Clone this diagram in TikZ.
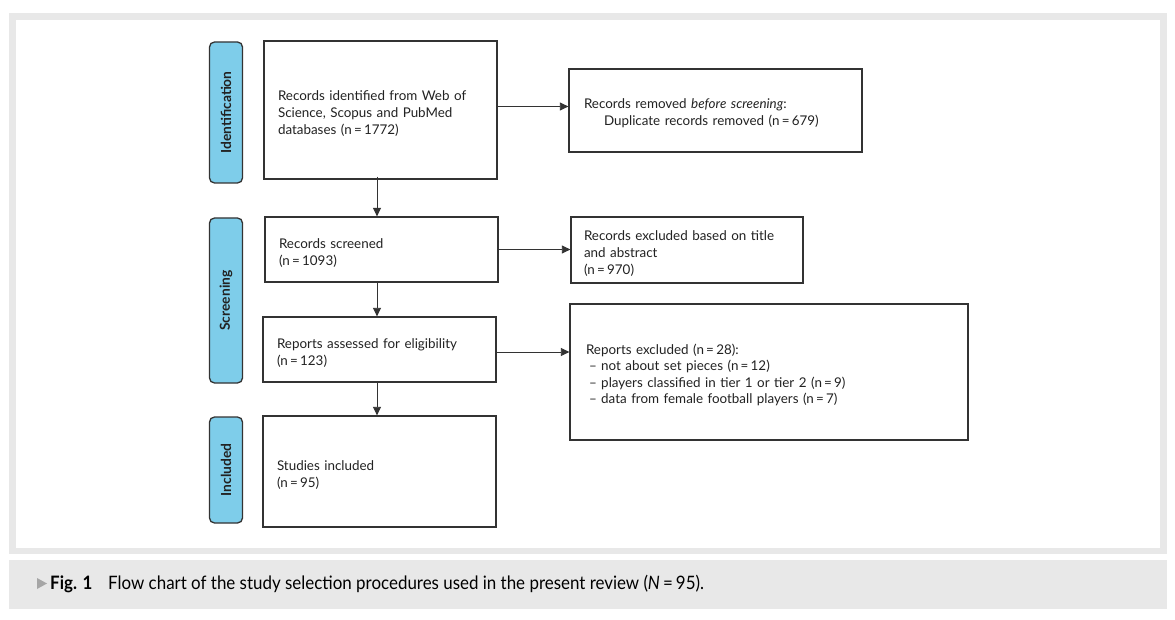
\documentclass[tikz,border=0pt]{standalone}
\usepackage{fontspec}
\setmainfont{Lato}
\newfontfamily\capfont[FakeStretch=0.915]{Lato}
\usetikzlibrary{arrows.meta}
\definecolor{framegray}{HTML}{E8E8E8}
\definecolor{labblue}{HTML}{7ECDEA}
\definecolor{ink}{HTML}{222222}
\definecolor{edge}{HTML}{333333}
\tikzset{
  box/.style={draw=edge, line width=1.3pt, fill=white, inner xsep=14pt, inner ysep=0pt, align=left, text=ink,
    font=\fontsize{13.4}{17}\selectfont, execute at begin node={\rule{0pt}{16pt}}},
  lab/.style={draw=edge, line width=1.3pt, fill=labblue, rounded corners=5pt, rotate=90, inner sep=0pt,
    text=ink, font=\bfseries\fontsize{13.8}{15}\selectfont},
  arr/.style={draw=edge, line width=0.8pt, -{Triangle[length=8.5pt,width=8pt]}},
}
\begin{document}
\begin{tikzpicture}[x=1pt,y=-1pt]
\useasboundingbox (0,0) rectangle (1175,620);
\fill[white] (0,0) rectangle (1175,620);
\fill[framegray] (9,13) rectangle (1167,554);
\fill[white] (16,20) rectangle (1160,548);
\fill[framegray] (9,560) rectangle (1167,609);

% phase labels
\node[lab, minimum width=141pt, minimum height=33pt] (l1) at (226,112.5) {Identification};
\node[lab, minimum width=165pt, minimum height=33pt] (l2) at (226,300.5) {Screening};
\node[lab, minimum width=106pt, minimum height=33pt] (l3) at (226,470) {Included};

% left column
\node[box, text width=205pt, minimum height=138pt] (b1) at (380.5,110)
  {Records identified from Web of\\Science, Scopus and PubMed\\databases (n\,=\,1772)};
\node[box, text width=205pt, minimum height=65pt] (b2) at (381.5,249.5)
  {Records screened\\(n\,=\,1093)};
\node[box, text width=205pt, minimum height=65pt] (b3) at (379.5,349.5)
  {Reports assessed for eligibility\\(n\,=\,123)};
\node[box, text width=205pt, minimum height=111pt] (b4) at (379.5,471.5)
  {Studies included\\(n\,=\,95)};

% right column
\node[box, inner xsep=15pt, text width=263pt, minimum height=83pt] (r1) at (715.5,110.5)
  {Records removed \textit{before screening}:\\\hspace*{20pt}Duplicate records removed (n\,=\,679)};
\node[box, inner xsep=13pt, text width=206pt, minimum height=66pt] (r2) at (687,250)
  {Records excluded based on title\\and abstract\\(n\,=\,970)};
\node[box, inner xsep=16pt, text width=366pt, minimum height=136pt, font=\fontsize{13.4}{16.3}\selectfont] (r3) at (769,372)
  {Reports excluded (n\,=\,28):\\\hspace*{3pt}\textendash\ not about set pieces (n\,=\,12)\\\hspace*{3pt}\textendash\ players classified in tier 1 or tier 2 (n\,=\,9)\\\hspace*{3pt}\textendash\ data from female football players (n\,=\,7)};

% connectors
\draw[arr] ([yshift=3.5pt]b1.east) -- ([yshift=3.5pt]b1.east -| r1.west);
\draw[arr] (b2.east) -- (b2.east -| r2.west);
\draw[arr] ([yshift=-2.5pt]b3.east) -- ([yshift=-2.5pt]b3.east -| r3.west);
\draw[arr] ([xshift=-3.5pt,yshift=3pt]b1.south) -- ([xshift=-3.5pt]b1.south |- b2.north);
\draw[arr] ([xshift=-4.5pt]b2.south) -- ([xshift=-4.5pt]b2.south |- b3.north);
\draw[arr] ([xshift=-2.5pt]b3.south) -- ([xshift=-2.5pt]b3.south |- b4.north);

% caption
\fill[gray!70] (37,578) -- (47,583.5) -- (37,589) -- cycle;
\node[anchor=west, inner sep=0pt, text=black, font=\capfont\bfseries\fontsize{18.5}{20}\selectfont] (figlab) at (50,584) {Fig. 1};
\node[anchor=west, inner sep=0pt, text=black, font=\capfont\fontsize{18.5}{20}\selectfont] (cap) at (108,584)
  {Flow chart of the study selection procedures used in the present review (\textit{N}\,=\,95).};
\end{tikzpicture}
\end{document}
